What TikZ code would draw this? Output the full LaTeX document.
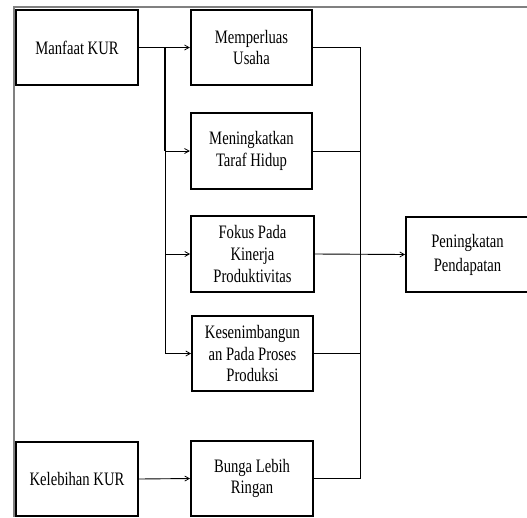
\documentclass[tikz,border=0pt]{standalone}
\usepackage{fontspec}
\setmainfont{Liberation Serif}
\newfontfamily\boxfont[FakeStretch=0.77]{Liberation Serif}
\usetikzlibrary{arrows.meta}
\begin{document}
\begin{tikzpicture}[x=1pt,y=-1pt,
  box/.style={draw=black,line width=2.4pt,rectangle,align=center,inner sep=0pt,
    font=\boxfont\fontsize{19}{21.8}\selectfont},
  conn/.style={draw=black,line width=0.9pt},
  arr/.style={conn,-{Straight Barb[length=4.5pt,width=5pt,line width=0.8pt]}},
  frame/.style={draw=black!50,line width=2pt}]
\useasboundingbox (0,0) rectangle (527,517);
% outer frame (top and left)
\coordinate (fa) at (14,517);
\coordinate (fb) at (14,7);
\coordinate (fc) at (530,7);
\draw[frame] (fa) -- (fb) -- (fc);
% boxes
\node[box,minimum width=121.5pt,minimum height=74.5pt] (manfaat) at (77,47.5) {Manfaat KUR};
\node[box,minimum width=121pt,minimum height=74.5pt] (memperluas) at (251.5,47.5) {Memperluas\\Usaha};
\node[box,minimum width=121pt,minimum height=75.5pt] (meningkatkan) at (251.5,151) {Meningkatkan\\Taraf Hidup};
\node[box,minimum width=122.5pt,minimum height=75.5pt] (fokus) at (252.5,254) {Fokus Pada\\Kinerja\\Produktivitas};
\node[box,minimum width=120.5pt,minimum height=74.5pt] (kesen) at (252.5,353.5) {Kesenimbangun\\an Pada Proses\\Produksi};
\node[box,minimum width=121.5pt,minimum height=74.5pt] (bunga) at (252,478.5) {Bunga Lebih\\Ringan};
\node[box,minimum width=121.5pt,minimum height=74.5pt] (kelebihan) at (77,479) {Kelebihan KUR};
\node[box,minimum width=122.5pt,minimum height=75pt,
  font=\boxfont\fontsize{19}{24}\selectfont] (pening) at (467.5,254.5) {Peningkatan\\Pendapatan};
% left bus
\coordinate (lb1) at (165,47.5);
\coordinate (lb2) at (165,151);
\coordinate (lb3) at (165,254);
\coordinate (lb4) at (165,353.5);
\draw[arr] (manfaat.east) -- (memperluas.west);
\draw[conn,line width=1.6pt] (lb1) -- (lb2);
\draw[conn] (lb2) -- (lb4);
\draw[arr] (lb2) -- (meningkatkan.west);
\draw[arr] (lb3) -- (fokus.west);
\draw[arr] (lb4) -- (kesen.west);
% right bus
\coordinate (rb1) at (360,47.5);
\coordinate (rb2) at (360,151);
\coordinate (rb4) at (360,353.5);
\coordinate (rb5) at (360,478.5);
\draw[conn] (memperluas.east) -- (rb1) -- (rb5) -- (bunga.east);
\draw[conn] (meningkatkan.east) -- (rb2);
\draw[conn] (kesen.east) -- (rb4);
\draw[arr] (fokus.east) -- (pening.west);
\draw[arr] (kelebihan.east) -- (bunga.west);
\end{tikzpicture}
\end{document}
